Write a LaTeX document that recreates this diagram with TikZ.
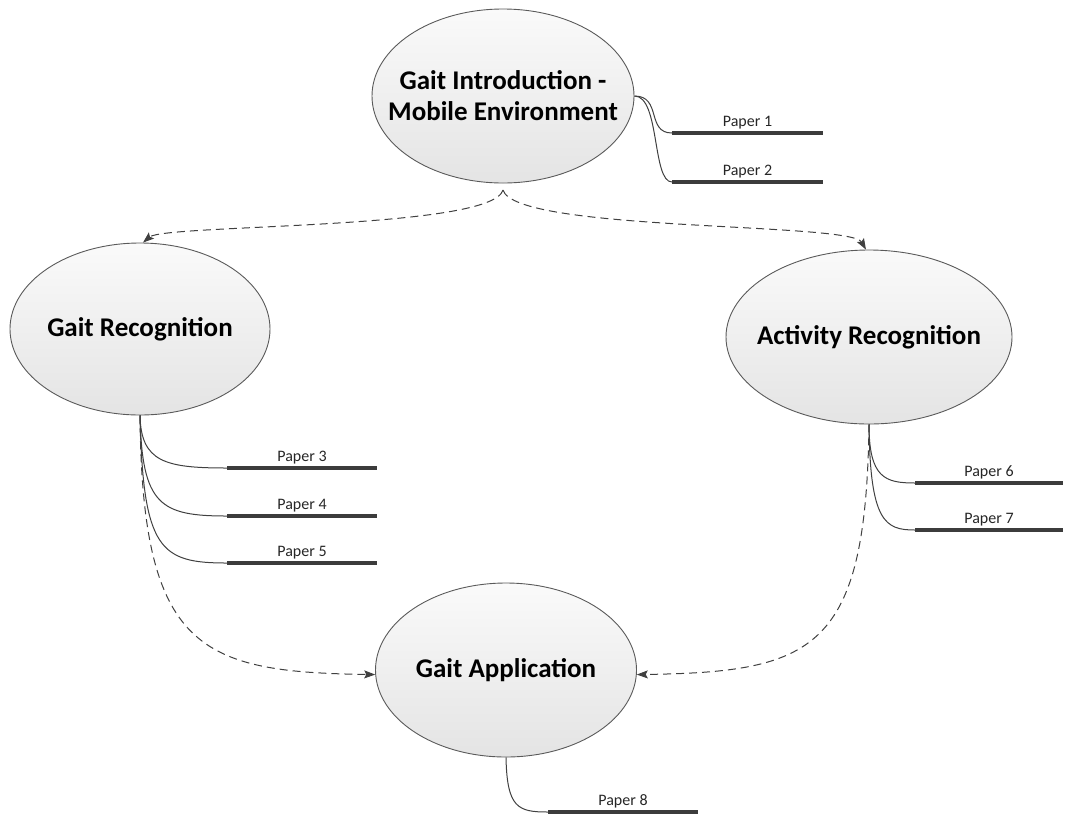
\documentclass[tikz,border=0pt]{standalone}
\usepackage{fontspec}
\setmainfont{Carlito}
\usetikzlibrary{shapes.geometric,arrows.meta,calc}
\definecolor{edge}{RGB}{64,64,64}
\definecolor{rim}{RGB}{90,90,90}
\definecolor{bar}{RGB}{60,60,60}
\tikzset{
  topic/.style={ellipse, draw=rim, line width=0.9pt, inner xsep=-25pt, inner ysep=0pt,
    top color={rgb,255:red,250;green,250;blue,250}, bottom color={rgb,255:red,228;green,228;blue,228},
    font=\fontsize{27}{31}\selectfont\bfseries, align=center, text=black},
  paperbar/.style={line width=4.5pt, draw=bar},
  paperlbl/.style={anchor=base, font=\fontsize{16}{18}\selectfont, text=black!85},
  twig/.style={draw=edge, line width=1pt},
  flow/.style={draw=edge, line width=1pt, dash pattern=on 8pt off 5pt,
    -{Stealth[length=11pt,width=8pt,inset=2pt]}}
}
\begin{document}
\begin{tikzpicture}[x=1pt,y=-1pt]
\useasboundingbox (0,0) rectangle (1070,815);

% topics
\node[topic, minimum width=262pt, minimum height=174pt] (gi) at (503,96) {Gait Introduction -\\Mobile Environment};
\node[topic, minimum width=260pt, minimum height=172pt] (gr) at (140,329) {Gait Recognition};
\node[topic, minimum width=286pt, minimum height=174pt] (ar) at (869,337) {Activity Recognition};
\node[topic, minimum width=261pt, minimum height=174pt] (ga) at (506,670) {Gait Application};

% paper bars
\coordinate (p1s) at (672,133); \coordinate (p1e) at (823,133);
\coordinate (p2s) at (672,182); \coordinate (p2e) at (823,182);
\coordinate (p3s) at (227,468); \coordinate (p3e) at (377,468);
\coordinate (p4s) at (227,516); \coordinate (p4e) at (377,516);
\coordinate (p5s) at (227,563); \coordinate (p5e) at (377,563);
\coordinate (p6s) at (915,483); \coordinate (p6e) at (1063,483);
\coordinate (p7s) at (915,530); \coordinate (p7e) at (1063,530);
\coordinate (p8s) at (548,812); \coordinate (p8e) at (698,812);

\foreach \i in {1,...,8} {
  \draw[paperbar] (p\i s) -- (p\i e);
  \node[paperlbl] (l\i) at ($(p\i s)!0.5!(p\i e)+(0,-7)$) {Paper \i};
}

% twigs
\draw[twig] (gi.east) .. controls (662,96) and (646,133) .. (p1s);
\draw[twig] (gi.east) .. controls (660,96) and (652,182) .. (p2s);
\draw[twig] (gr.south) .. controls (141,462) and (165,468) .. (p3s);
\draw[twig] (gr.south) .. controls (142,505) and (160,516) .. (p4s);
\draw[twig] (gr.south) .. controls (143,550) and (160,563) .. (p5s);
\draw[twig] (ar.south) .. controls (869,478) and (885,483) .. (p6s);
\draw[twig] (ar.south) .. controls (870,522) and (885,530) .. (p7s);
\draw[twig] (ga.south) .. controls (507,808) and (518,812) .. (p8s);

% flows
\coordinate (split) at (503,190);
\draw[flow] (split) .. controls (492,230) and (165,224) .. (gr.88);
\draw[flow] (split) .. controls (515,232) and (850,222) .. (ar.92);
\draw[flow] (gr.south) .. controls (142,650) and (200,672) .. (ga.182);
\draw[flow] (ar.south) .. controls (866,650) and (815,672) .. (ga.358);
\end{tikzpicture}
\end{document}
